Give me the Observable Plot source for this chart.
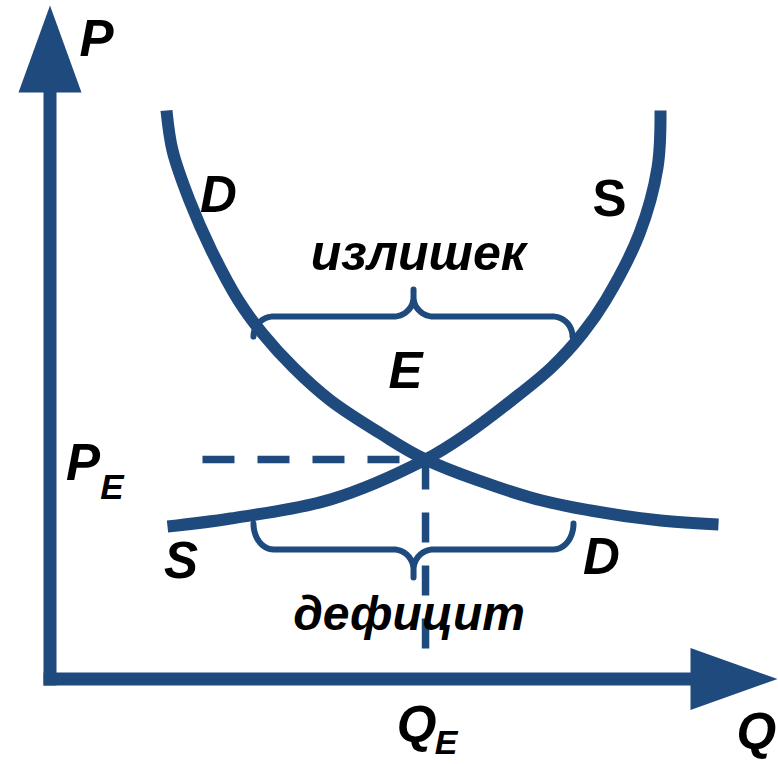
<!DOCTYPE html>
<html>
<head>
<meta charset="utf-8">
<script src="https://cdn.jsdelivr.net/npm/d3@7"></script>
<script src="https://cdn.jsdelivr.net/npm/@observablehq/plot@0.6"></script>
<style>
  html, body { margin: 0; padding: 0; background: #ffffff; }
  #chart svg { display: block; }
</style>
</head>
<body>
<div id="chart"></div>
<script>
// ---- Data (Q = quantity, P = price, axis units 0..100) ----
const demandQ = [16.01, 16.84, 19.18, 22.20, 25.91, 29.21, 33.47, 38.56, 45.43, 51.62, 66.05, 74.30, 83.92, 91.89];
const demandP = [84.41, 78.47, 71.05, 63.62, 56.20, 51.30, 46.25, 41.35, 36.45, 32.59, 26.95, 25.02, 23.53, 22.94];

const supplyQ = [16.15, 24.81, 38.56, 51.62, 57.39, 63.44, 68.93, 73.20, 76.36, 81.03, 83.51, 83.92];
const supplyP = [22.64, 23.83, 26.65, 32.59, 36.45, 41.35, 46.25, 51.30, 56.20, 66.15, 75.95, 84.41];

const equilibriumQ = 51.62;
const equilibriumP = 32.59;
const priceGuideStartQ = 20.96;
const quantityGuideEndP = 3.19;

const axisEndQ = 88.04;   // where the Q arrowhead begins
const axisEndP = 87.08;   // where the P arrowhead begins
const arrowHalfQ = 4.33;  // half width of P-axis arrowhead (Q units)
const arrowHalfP = 4.60;  // half width of Q-axis arrowhead (P units)

// braces: [left Q, right Q, middle Q, bar P, tip P, end P]
const surplusBrace = [27.97, 71.82, 49.97, 53.82, 57.83, 50.85];
const shortageBrace = [27.97, 71.96, 49.97, 19.23, 15.07, 23.09];

const labelText   = ["P", "D", "S", "излишек", "E", "P", "E", "S", "D", "дефицит", "Q", "Q", "E"];
const labelQ      = [6.39, 23.16, 76.91, 50.65, 48.87, 4.54, 8.52, 18.01, 75.81, 49.35, 97.10, 50.38, 54.43];
const labelP      = [95.0, 71.69, 71.24, 63.07, 45.70, 32.04, 28.46, 17.49, 18.08, 9.62, -7.90, -6.86, -9.55];
const labelSize   = [51, 51, 51, 50, 51, 51, 35, 51, 51, 48, 51, 51, 34];
const labelItalic = [true, true, false, true, true, true, true, true, true, true, true, true, true];

// ---- Build tables ----
const color = "#1f4a7e";
const demand = demandQ.map((q, i) => ({q, p: demandP[i]}));
const supply = supplyQ.map((q, i) => ({q, p: supplyP[i]}));
const labels = labelText.map((t, i) => ({t, q: labelQ[i], p: labelP[i], size: labelSize[i], italic: labelItalic[i]}));

function bracePoints([x0, x1, xm, bar, tip, end]) {
  const rx = 2.75;
  const h = 0.72 * (tip - bar);
  const pts = [];
  const n = 16;
  for (let i = 0; i <= n; i++) {
    const a = (i / n) * Math.PI / 2;
    pts.push({q: x0 + rx - rx * Math.cos(a), p: end + (bar - end) * Math.sin(a)});
  }
  for (let i = 0; i <= n; i++) {
    const a = (i / n) * Math.PI / 2;
    pts.push({q: xm - rx + rx * Math.sin(a), p: bar + h - h * Math.cos(a)});
  }
  pts.push({q: xm, p: tip});
  for (let i = n; i >= 0; i--) {
    const a = (i / n) * Math.PI / 2;
    pts.push({q: xm + rx - rx * Math.sin(a), p: bar + h - h * Math.cos(a)});
  }
  for (let i = n; i >= 0; i--) {
    const a = (i / n) * Math.PI / 2;
    pts.push({q: x1 - rx + rx * Math.cos(a), p: end + (bar - end) * Math.sin(a)});
  }
  return pts;
}

const axisP = [{q: 0, p: 0}, {q: 0, p: axisEndP}];
const axisQ = [{q: 0, p: 0}, {q: axisEndQ, p: 0}];
const headP = [{q: -arrowHalfQ, p: axisEndP}, {q: 0, p: 100}, {q: arrowHalfQ, p: axisEndP}];
const headQ = [{q: axisEndQ, p: arrowHalfP}, {q: 100, p: 0}, {q: axisEndQ, p: -arrowHalfP}];
const priceGuide = [{q: priceGuideStartQ, p: equilibriumP}, {q: equilibriumQ, p: equilibriumP}];
const quantityGuide = [{q: equilibriumQ, p: equilibriumP}, {q: equilibriumQ, p: quantityGuideEndP}];

const font = "'Liberation Sans', Arial, sans-serif";
const textMark = (data, italic) => Plot.text(data, {
  x: "q", y: "p", text: "t", fontSize: "size", fontWeight: "bold",
  fontStyle: italic ? "italic" : "normal", fontFamily: font, fill: "#000000"
});

const chart = Plot.plot({
  width: 778,
  height: 764,
  margin: 0,
  x: {domain: [0, 100], range: [49.5, 777], axis: null},
  y: {domain: [0, 100], range: [678.5, 5], axis: null},
  marks: [
    Plot.line(priceGuide, {x: "q", y: "p", stroke: color, strokeWidth: 7.5, strokeDasharray: "32,23", strokeLinecap: "butt"}),
    Plot.line(quantityGuide, {x: "q", y: "p", stroke: color, strokeWidth: 7.5, strokeDasharray: "30,23", strokeLinecap: "butt"}),
    Plot.line(axisP, {x: "q", y: "p", stroke: color, strokeWidth: 13, strokeLinecap: "square"}),
    Plot.line(axisQ, {x: "q", y: "p", stroke: color, strokeWidth: 13, strokeLinecap: "square"}),
    Plot.line(headP, {x: "q", y: "p", fill: color, stroke: "none"}),
    Plot.line(headQ, {x: "q", y: "p", fill: color, stroke: "none"}),
    Plot.line(bracePoints(surplusBrace), {x: "q", y: "p", stroke: color, strokeWidth: 6, strokeLinecap: "round", strokeLinejoin: "round"}),
    Plot.line(bracePoints(shortageBrace), {x: "q", y: "p", stroke: color, strokeWidth: 6, strokeLinecap: "round", strokeLinejoin: "round"}),
    Plot.line(demand, {x: "q", y: "p", curve: "catmull-rom", stroke: color, strokeWidth: 12, strokeLinecap: "butt"}),
    Plot.line(supply, {x: "q", y: "p", curve: "catmull-rom", stroke: color, strokeWidth: 12, strokeLinecap: "butt"}),
    textMark(labels.filter(d => d.italic), true),
    textMark(labels.filter(d => !d.italic), false)
  ]
});
document.getElementById("chart").appendChild(chart);
</script>
</body>
</html>
